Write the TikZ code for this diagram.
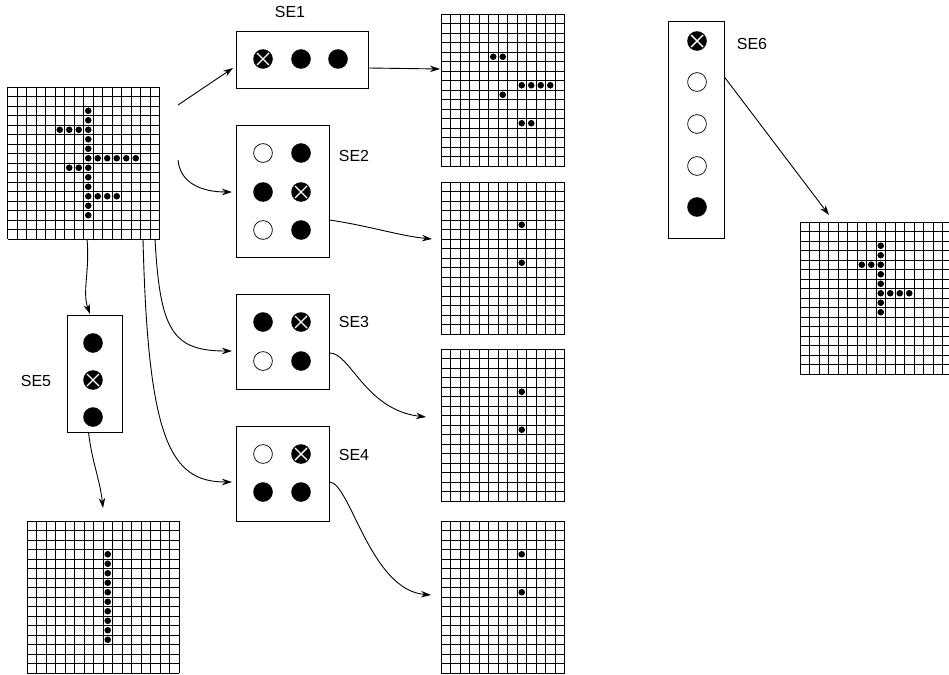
\documentclass[tikz,border=0pt]{standalone}
\usepackage{fontspec}
\setmainfont{Liberation Sans}
\usetikzlibrary{arrows.meta}
\tikzset{
  gridline/.style={line width=0.95pt},
  gridnode/.style={minimum height=152pt, inner sep=0pt},
  sebox/.style={draw, line width=0.8pt, inner sep=0pt},
  openc/.style={draw, fill=white, line width=0.7pt},
  conn/.style={line width=0.9pt, -{Stealth[length=10pt,width=6.5pt]}},
  lbl/.style={font=\fontsize{16}{18}\selectfont, inner sep=0pt}
}
% #1 x, #2 y (top left), #3 number of columns, #4 dots
\newcommand\pixgrid[4]{%
  \foreach \i in {0,...,#3} {
    \draw[gridline] (#1+\i*9.5, #2) -- (#1+\i*9.5, #2+152);
  }
  \foreach \i in {0,...,16} {
    \draw[gridline] (#1, #2+\i*9.5) -- (#1+#3*9.5, #2+\i*9.5);
  }
  \foreach \c/\r in {#4} \fill (#1+\c*9.5+4.75, #2+\r*9.5+4.75) circle[radius=3.3];
}
\newcommand\elfull[2]{\fill (#1,#2) circle[radius=9.8];}
\newcommand\elopen[2]{\draw[openc] (#1,#2) circle[radius=9.4];}
\newcommand\elcross[2]{\fill (#1,#2) circle[radius=9.8];
  \draw[white, line width=1.4pt] (#1-6,#2-6) -- (#1+6,#2+6) (#1-6,#2+6) -- (#1+6,#2-6);}
\begin{document}
\begin{tikzpicture}[x=1pt, y=-1pt]
\useasboundingbox (0,0) rectangle (949,674);

% grids
\node[gridnode, minimum width=152pt] (gin) at (83.5,163) {};
\pixgrid{7.5}{87}{16}{8/2,8/3,8/4,8/5,8/6,8/7,8/8,8/9,8/10,8/11,8/12,8/13,5/4,6/4,7/4,9/7,10/7,11/7,12/7,13/7,6/8,7/8,9/11,10/11,11/11}
\node[gridnode, minimum width=123.5pt] (g1) at (502.75,90) {};
\pixgrid{441}{14}{13}{5/4,6/4,8/7,9/7,10/7,11/7,6/8,8/11,9/11}
\node[gridnode, minimum width=123.5pt] (g2) at (502.75,258) {};
\pixgrid{441}{182}{13}{8/4,8/8}
\node[gridnode, minimum width=123.5pt] (g3) at (502.75,425) {};
\pixgrid{441}{349}{13}{8/4,8/8}
\node[gridnode, minimum width=123.5pt] (g4) at (502.75,597) {};
\pixgrid{441}{521}{13}{8/3,8/7}
\node[gridnode, minimum width=152pt] (g5) at (103,597) {};
\pixgrid{27}{521}{16}{8/3,8/4,8/5,8/6,8/7,8/8,8/9,8/10,8/11,8/12}
\node[gridnode, minimum width=152pt] (g6) at (876,298) {};
\pixgrid{800}{222}{16}{8/2,8/3,8/4,8/5,8/6,8/7,8/8,8/9,6/4,7/4,9/7,10/7,11/7}

% structuring element boxes
\node[sebox, minimum width=132pt, minimum height=57pt] (se1) at (302,59.5) {};
\elcross{263}{59}\elfull{301}{59}\elfull{338}{59}
\node[lbl] (l1) at (290,12) {SE1};

\node[sebox, minimum width=93pt, minimum height=132pt] (se2) at (282.5,191) {};
\elopen{263}{153}\elfull{301}{153}
\elfull{263}{192}\elcross{301}{192}
\elopen{263}{230}\elfull{301}{230}
\node[lbl] (l2) at (354,156) {SE2};

\node[sebox, minimum width=93pt, minimum height=95pt] (se3) at (282.5,341.5) {};
\elfull{263}{322}\elcross{301}{322}
\elopen{263}{361}\elfull{301}{361}
\node[lbl] (l3) at (354,322) {SE3};

\node[sebox, minimum width=93pt, minimum height=95pt] (se4) at (282.5,473.5) {};
\elopen{263}{454}\elcross{301}{454}
\elfull{263}{492}\elfull{301}{492}
\node[lbl] (l4) at (354,455) {SE4};

\node[sebox, minimum width=55pt, minimum height=117pt] (se5) at (94.5,373.5) {};
\elfull{93}{343}\elcross{93}{380}\elfull{93}{417}
\node[lbl] (l5) at (36,381) {SE5};

\node[sebox, minimum width=56pt, minimum height=217pt] (se6) at (696,129.5) {};
\elcross{697}{41}\elopen{697}{82}\elopen{697}{124}\elopen{697}{166}\elfull{697}{207}
\node[lbl] (l6) at (752,44) {SE6};

% connector end points
\coordinate (m1) at (178,105);
\coordinate (m2) at (178,160);
\coordinate (m3) at (155,239);
\coordinate (m4) at (143,239);
\coordinate (m5) at (87,239);
\coordinate (t1) at (233,68);
\coordinate (t2) at (232,192);
\coordinate (t3) at (232,351);
\coordinate (t4) at (232,482);
\coordinate (t5) at (90,314);
\coordinate (o1) at (440,69);
\coordinate (o2) at (432,239);
\coordinate (o3) at (426,417);
\coordinate (o4) at (431,595);
\coordinate (o5) at (103,508);
\coordinate (o6) at (829,215);

% connectors
\draw[conn] (m1) -- (t1);
\draw[conn] (m2) .. controls (180,182) and (200,192) .. (t2);
\draw[conn] (m3) .. controls (160,330) and (172,351) .. (t3);
\draw[conn] (m4) .. controls (148,440) and (170,482) .. (t4);
\draw[conn] (m5) .. controls (90,270) and (82,292) .. (t5);

\draw[conn] (se1.east |- 0,68) -- (o1);
\draw[conn] (se2.east |- 0,220) .. controls (370,226) and (400,236) .. (o2);
\draw[conn] (se3.east |- 0,353) .. controls (350,352) and (365,410) .. (o3);
\draw[conn] (se4.east |- 0,482) .. controls (350,482) and (370,590) .. (o4);
\draw[conn] (se5.south) ++(-6,0) coordinate (s5) .. controls (92,462) and (100,480) .. (o5);
\draw[conn] (se6.east |- 0,77) -- (o6);
\end{tikzpicture}
\end{document}
